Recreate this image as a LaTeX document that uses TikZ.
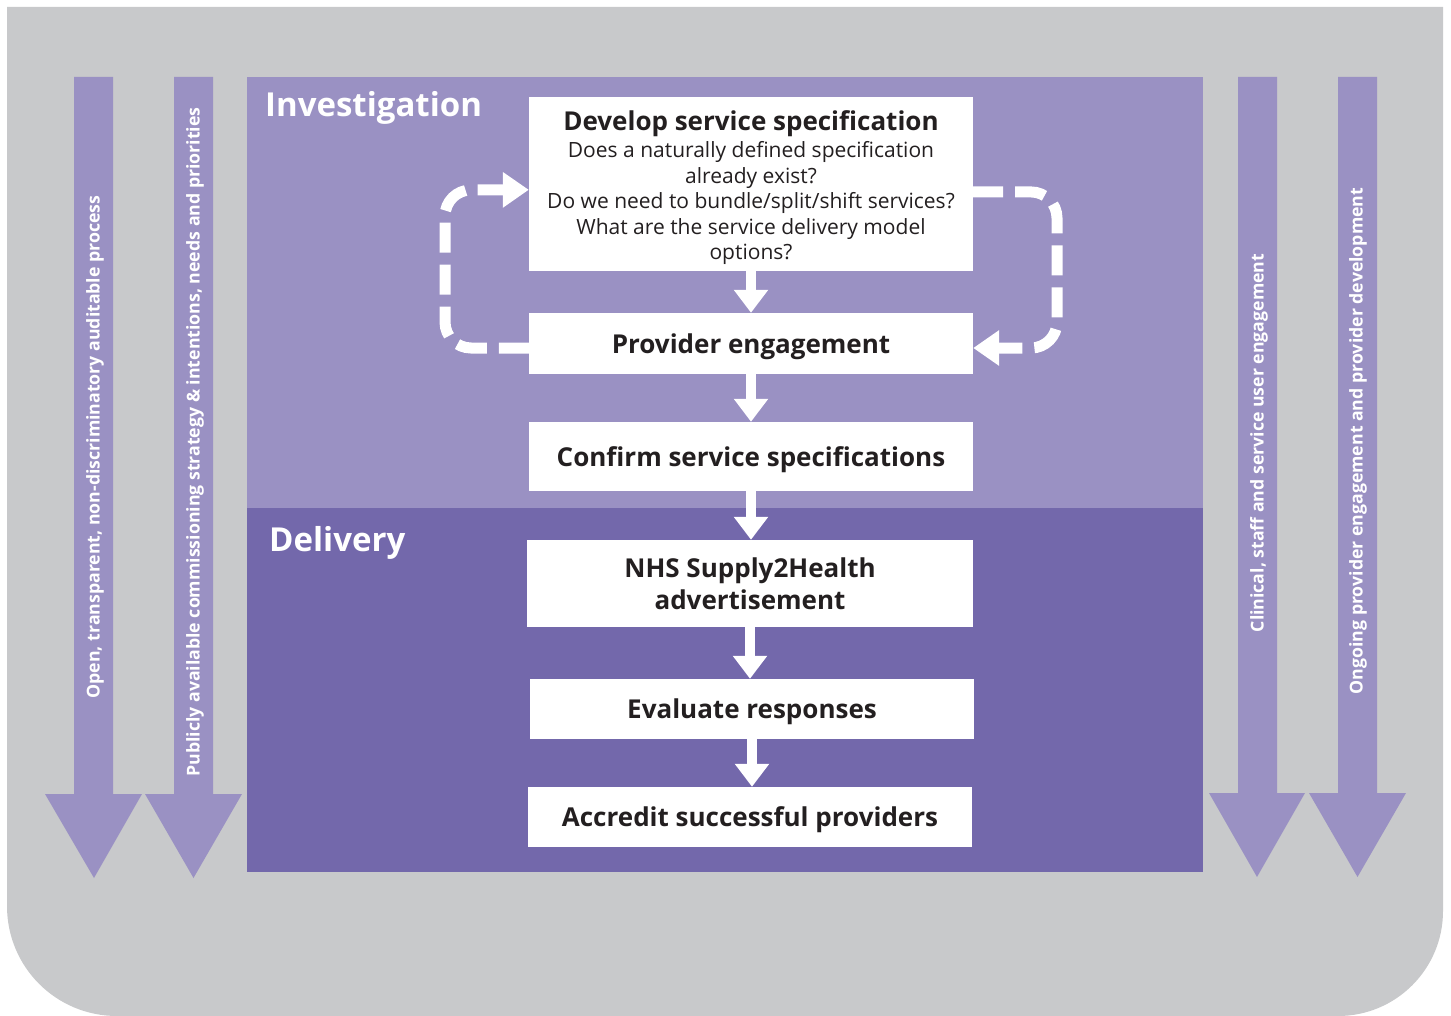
\documentclass[tikz,border=0pt]{standalone}
\usepackage{fontspec}
\setmainfont{Open Sans}
\usetikzlibrary{arrows.meta}
\definecolor{bggrey}{HTML}{C8C9CB}
\definecolor{lightp}{HTML}{9A91C3}
\definecolor{darkp}{HTML}{7368AB}
\definecolor{txt}{HTML}{231F20}
\newcommand\titlefont{\fontsize{26}{25.5}\selectfont\bfseries}
\newcommand\qfont{\fontsize{21}{25.5}\selectfont\mdseries}
\tikzset{
  wbox/.style={fill=white, inner sep=0pt, align=center, text=txt, font=\fontsize{26}{32}\selectfont\bfseries},
  oneline/.style={text depth=0pt},
  flow/.style={white, line width=10pt, -{Triangle[width=33pt,length=23pt]}},
  loopline/.style={white, line width=11pt, dash pattern=on 30pt off 12pt, rounded corners=26pt, -{Triangle[width=34pt,length=26pt]}},
  panellabel/.style={anchor=west, text=white, inner sep=0pt, font=\fontsize{33}{38}\selectfont\bfseries},
  sidetext/.style={rotate=90, text=white, inner sep=0pt, font=\fontsize{17.7}{20}\selectfont\bfseries},
  bigarrow/.style={fill=lightp}
}
\begin{document}
\begin{tikzpicture}[x=1pt,y=-1pt]
\useasboundingbox (0,0) rectangle (1451,1016);
\fill[white] (0,0) rectangle (1451,1016);
% grey background
\fill[bggrey] (7,7) -- (1443,7) -- (1443,911)
  .. controls (1443,969) and (1396,1016) .. (1338,1016)
  -- (117,1016) .. controls (56,1016) and (7,967) .. (7,906) -- cycle;
% panels
\fill[lightp] (247,77) rectangle (1203,508);
\fill[darkp] (247,508) rectangle (1203,872);
\node[panellabel] (inv) at (265,108) {Investigation};
\node[panellabel] (del) at (269,543) {Delivery};
% side arrows
\fill[bigarrow] (74,77) -- (113,77) -- (113,794) -- (142,794) -- (94,878) -- (45,794) -- (74,794) -- cycle;
\fill[bigarrow] (174,77) -- (213,77) -- (213,794) -- (242,794) -- (193.5,878) -- (145,794) -- (174,794) -- cycle;
\fill[bigarrow] (1238,77) -- (1277,77) -- (1277,793) -- (1305,793) -- (1257,877) -- (1209,793) -- (1238,793) -- cycle;
\fill[bigarrow] (1338,77) -- (1377,77) -- (1377,793) -- (1406,793) -- (1357.5,877) -- (1309,793) -- (1338,793) -- cycle;
\node[sidetext] (s1) at (95,447) {Open, transparent, non-discriminatory auditable process};
\node[sidetext] (s2) at (195,442) {Publicly available commissioning strategy \& intentions, needs and priorities};
\node[sidetext] (s3) at (1259,443) {Clinical, staff and service user engagement};
\node[sidetext] (s4) at (1358,441) {Ongoing provider engagement and provider development};
% boxes
\node[wbox, font=\qfont, minimum width=444pt, minimum height=174pt] (dev) at (751,184)
  {\titlefont\rule{0pt}{28pt}Develop service specification\\[1.5pt]
   \qfont Does a naturally defined specification\\ \qfont already exist?\\ \qfont Do we need to bundle/split/shift services?\\ \qfont What are the service delivery model\\ \qfont options?};
\node[wbox, oneline, minimum width=444pt, minimum height=61pt] (prov) at (751,343.5) {Provider engagement};
\node[wbox, oneline, minimum width=444pt, minimum height=69pt] (conf) at (751,456.5) {Confirm service specifications};
\node[wbox, minimum width=446pt, minimum height=87pt] (nhs) at (750,583.5) {NHS Supply2Health\\ advertisement};
\node[wbox, oneline, minimum width=444pt, minimum height=60pt] (eval) at (752,709) {Evaluate responses};
\node[wbox, oneline, minimum width=444pt, minimum height=60pt] (accr) at (750,817) {Accredit successful providers};
% flow arrows
\draw[flow] (dev.south) -- (prov.north);
\draw[flow] (prov.south) -- (conf.north);
\draw[flow] (conf.south) -- (conf.south |- nhs.north);
\draw[flow] (nhs.south) -- (nhs.south |- eval.north);
\draw[flow] (eval.south) -- (eval.south |- accr.north);
% dashed loops
\coordinate (lb) at (445,348);
\coordinate (lt) at (445,190);
\coordinate (rt) at (1057,192);
\coordinate (rb) at (1057,348);
\draw[loopline] ([yshift=-4.5pt]prov.west) -- (lb) -- (lt) -- ([yshift=-93pt]dev.north west);
\draw[loopline] ([yshift=-95pt]dev.north east) -- (rt) -- (rb) -- ([yshift=-4.5pt]prov.east);
\end{tikzpicture}
\end{document}
